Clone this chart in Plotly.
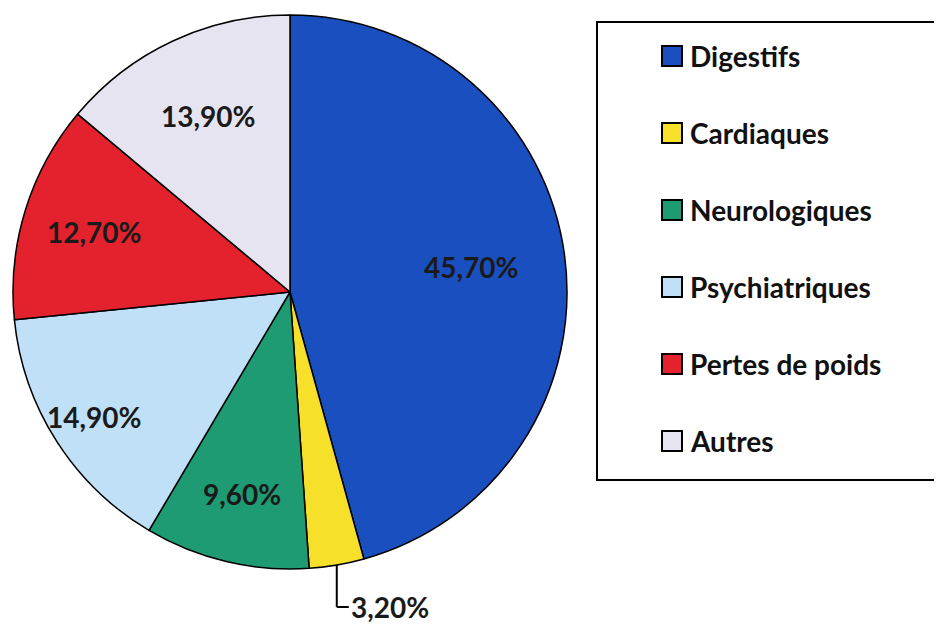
import math
import plotly.graph_objects as go

# ---- data ----
labels = ["Digestifs", "Cardiaques", "Neurologiques", "Psychiatriques", "Pertes de poids", "Autres"]
values = [45.7, 3.2, 9.6, 14.9, 12.7, 13.9]
text_labels = ["45,70%", "3,20%", "9,60%", "14,90%", "12,70%", "13,90%"]
colors = ["#1a4fc0", "#f7e02a", "#1e9b72", "#bfe0f7", "#e3222e", "#e6e4f0"]

VW, VH = 942, 624     # browser viewport
OFF = 8               # default page body margin
W, H = VW - OFF, VH - OFF
CX, CY, R = 290, 292, 277  # pie centre / radius in viewport pixels


def px(x):
    return (x - OFF) / W


def py(y):
    return 1 - (y - OFF) / H


FONT = "Lato"
fig = go.Figure(go.Pie(
    labels=labels,
    values=values,
    sort=False,
    direction="clockwise",
    rotation=0,
    marker=dict(colors=colors, line=dict(color="black", width=1.5)),
    textinfo="none",
    hoverinfo="label+percent",
    showlegend=False,
    domain=dict(x=[px(CX - R), px(CX + R)], y=[py(CY + R), py(CY - R)]),
))

annotations = []
shapes = []
total = sum(values)
cum = 0.0
frac = [0.66, 1.0, 0.75, 0.84, 0.74, 0.70]
lab_font = dict(family=FONT, size=28, color="#1a1a1a", weight="bold")
for i, v in enumerate(values):
    mid = (cum + v / 2) / total * 2 * math.pi
    cum += v
    if v / total < 0.05:
        ex = CX + R * math.sin(mid)
        ey = CY - R * math.cos(mid)
        ly = 607
        shapes.append(dict(type="line", xref="paper", yref="paper",
                           x0=px(ex), y0=py(ey), x1=px(ex), y1=py(ly),
                           line=dict(color="black", width=2)))
        shapes.append(dict(type="line", xref="paper", yref="paper",
                           x0=px(ex), y0=py(ly), x1=px(ex + 12), y1=py(ly),
                           line=dict(color="black", width=2)))
        annotations.append(dict(x=px(ex + 12), y=py(ly), xref="paper", yref="paper",
                                text=text_labels[i], showarrow=False,
                                xanchor="left", yanchor="middle", font=lab_font))
    else:
        r = R * frac[i]
        lx = CX + r * math.sin(mid)
        ly = CY - r * math.cos(mid)
        annotations.append(dict(x=px(lx), y=py(ly), xref="paper", yref="paper",
                                text=text_labels[i], showarrow=False,
                                xanchor="center", yanchor="middle", font=lab_font))

# ---- legend (built from labels/colors) ----
shapes.append(dict(type="rect", xref="paper", yref="paper",
                   x0=px(597), y0=py(480), x1=px(941), y1=py(22),
                   line=dict(color="black", width=2), fillcolor="rgba(0,0,0,0)"))
for i, (lab, col) in enumerate(zip(labels, colors)):
    yc = 56 + i * 77
    shapes.append(dict(type="rect", xref="paper", yref="paper",
                       x0=px(662), y0=py(yc + 10), x1=px(682), y1=py(yc - 10),
                       line=dict(color="black", width=2), fillcolor=col))
    annotations.append(dict(x=px(688), y=py(yc), xref="paper", yref="paper",
                            text=lab, showarrow=False, xanchor="left", yanchor="middle",
                            font=dict(family=FONT, size=28, color="#111111", weight="bold")))

fig.update_layout(
    width=W, height=H,
    margin=dict(l=0, r=0, t=0, b=0),
    paper_bgcolor="white", plot_bgcolor="white",
    annotations=annotations, shapes=shapes,
)

fig.write_html("out.html")
